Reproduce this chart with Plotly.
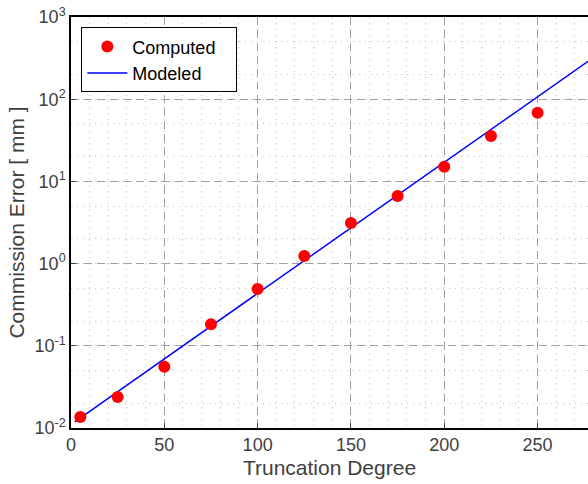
import plotly.graph_objects as go

degrees = [5, 25, 50, 75, 100, 125, 150, 175, 200, 225, 250]
computed = [0.0136, 0.0238, 0.0557, 0.183, 0.49, 1.24, 3.12, 6.64, 15.1, 35.6, 68.5]
model_x = [2, 280]
model_y = [0.0119, 322]
x_ticks = [0, 50, 100, 150, 200, 250]
y_ticks = [0.01, 0.1, 1, 10, 100, 1000]
y_tick_labels = ["10<sup>-2</sup>", "10<sup>-1</sup>", "10<sup>0</sup>",
                 "10<sup>1</sup>", "10<sup>2</sup>", "10<sup>3</sup>"]

fig = go.Figure()
fig.add_trace(go.Scatter(x=model_x, y=model_y, mode="lines", name="Modeled",
                         line=dict(color="#0000ff", width=1.5)))
fig.add_trace(go.Scatter(x=degrees, y=computed, mode="markers",
                         name="Computed\u00a0\u00a0\u00a0",
                         marker=dict(color="#ff0000", size=12)))

font_family = "Liberation Sans, Arial, sans-serif"
fig.update_layout(
    width=588, height=484,
    margin=dict(l=71, r=0, t=17, b=56),
    paper_bgcolor="white", plot_bgcolor="white",
    font=dict(family=font_family, size=18, color="#404040"),
    showlegend=True,
    legend=dict(x=0.02, y=0.975, xanchor="left", yanchor="top",
                bgcolor="white", bordercolor="black", borderwidth=1,
                font=dict(size=18, color="black"), traceorder="reversed",
                itemwidth=40, tracegroupgap=0),
)
fig.update_xaxes(
    range=[0, 277], tickvals=x_ticks, ticks="inside", ticklen=5, tickcolor="#404040",
    showline=True, linecolor="black", linewidth=1.5, mirror=True,
    showgrid=True, gridcolor="#a0a0a0", griddash="8px,5px", gridwidth=1.3,
    minor=dict(dtick=10, showgrid=True, gridcolor="#c4c4c4", griddash="1px,5px", gridwidth=1),
    title=dict(text="Truncation Degree", font=dict(size=21, color="#404040"), standoff=6),
    zeroline=False, automargin=False,
)
fig.update_yaxes(
    type="log", range=[-2, 3], tickvals=y_ticks, ticktext=y_tick_labels,
    ticks="inside", ticklen=5, tickcolor="#404040",
    showline=True, linecolor="black", linewidth=1.5, mirror=False,
    showgrid=True, gridcolor="#a0a0a0", griddash="8px,5px", gridwidth=1.3,
    minor=dict(showgrid=True, gridcolor="#c4c4c4", griddash="1px,5px", gridwidth=1),
    title=dict(text="Commission Error [ mm ]", font=dict(size=21, color="#404040"), standoff=4),
    zeroline=False, automargin=False,
)
fig.write_html("out.html", config={"displayModeBar": False},
               post_script="document.body.style.margin='0';")
